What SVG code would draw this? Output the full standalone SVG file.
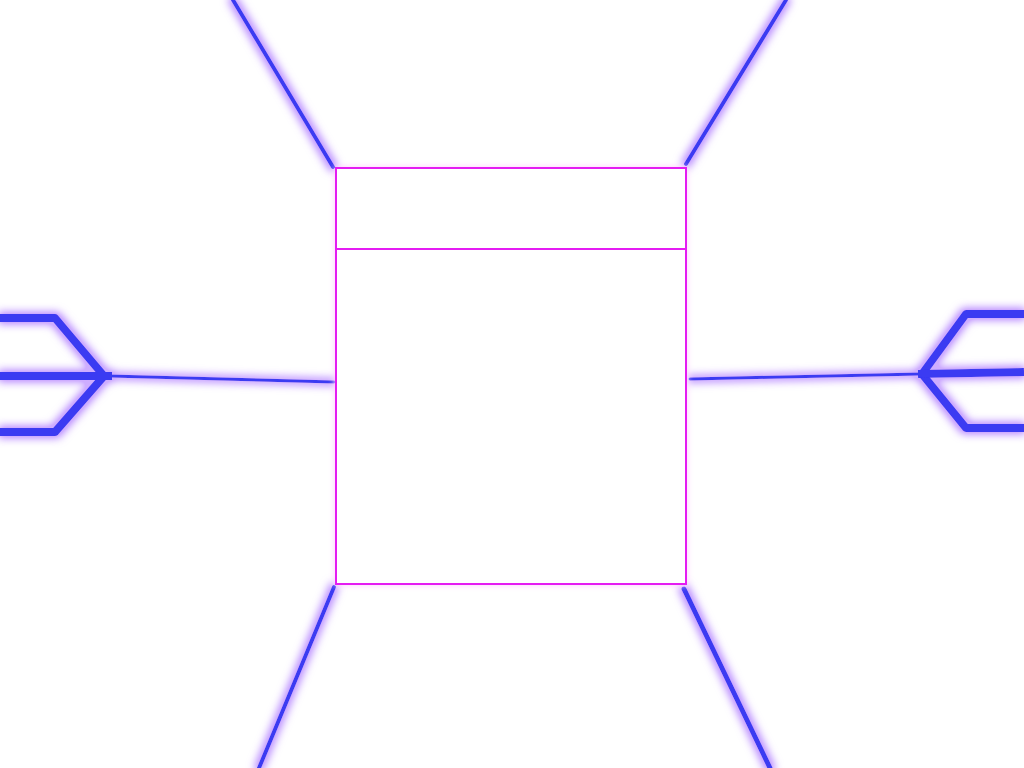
<svg xmlns="http://www.w3.org/2000/svg" width="1024" height="768" viewBox="0 0 1024 768">
<defs>
<filter id="glowB" x="-20%" y="-20%" width="140%" height="140%">
<feMorphology in="SourceGraphic" operator="dilate" radius="2" result="d"/>
<feGaussianBlur in="d" stdDeviation="4" result="b"/>
<feColorMatrix in="b" type="matrix" values="0 0 0 0 0.62  0 0 0 0 0.42  0 0 0 0 1  0 0 0 1.6 0" result="c"/>
<feMerge><feMergeNode in="c"/><feMergeNode in="SourceGraphic"/></feMerge>
</filter>
<filter id="glowM" x="-10%" y="-10%" width="120%" height="120%">
<feGaussianBlur in="SourceGraphic" stdDeviation="3" result="b"/>
<feColorMatrix in="b" type="matrix" values="0 0 0 0 1  0 0 0 0 0.65  0 0 0 0 1  0 0 0 1.2 0" result="c"/>
<feMerge><feMergeNode in="c"/><feMergeNode in="SourceGraphic"/></feMerge>
</filter>
</defs>
<style>
.edge{fill:none;stroke:#3a3af2;stroke-width:4;stroke-linecap:round;stroke-linejoin:round}
.foot{fill:none;stroke:#3a3af2;stroke-width:8;stroke-linejoin:round}
.box{fill:#ffffff;stroke:#e41cf2;stroke-width:2}
</style>
<rect width="1024" height="768" fill="#ffffff"/>
<g id="connectors" filter="url(#glowB)">
<path class="edge" d="M233,0 L333,167"/>
<path class="edge" d="M786,0 L686,164"/>
<path class="edge" d="M334,587 L259,768"/>
<path class="edge" style="stroke-width:5" d="M684,589 L770,768"/>
<path class="edge" style="stroke-width:3" d="M110,376 L334,382"/>
<path class="edge" style="stroke-width:3" d="M690,379 L920,374"/>
<path class="foot" d="M0,318 L55,318 L104,376 L55,432 L0,432"/>
<path class="foot" d="M0,376 L112,376"/>
<path class="foot" d="M1024,314 L966,314 L922,374 L966,428 L1024,428"/>
<path class="foot" d="M1024,372 L918,374"/>
</g>
<g id="entity" filter="url(#glowM)">
<rect class="box" x="336" y="168" width="350" height="416"/>
<line class="box" x1="336" y1="249" x2="686" y2="249"/>
</g>
</svg>
